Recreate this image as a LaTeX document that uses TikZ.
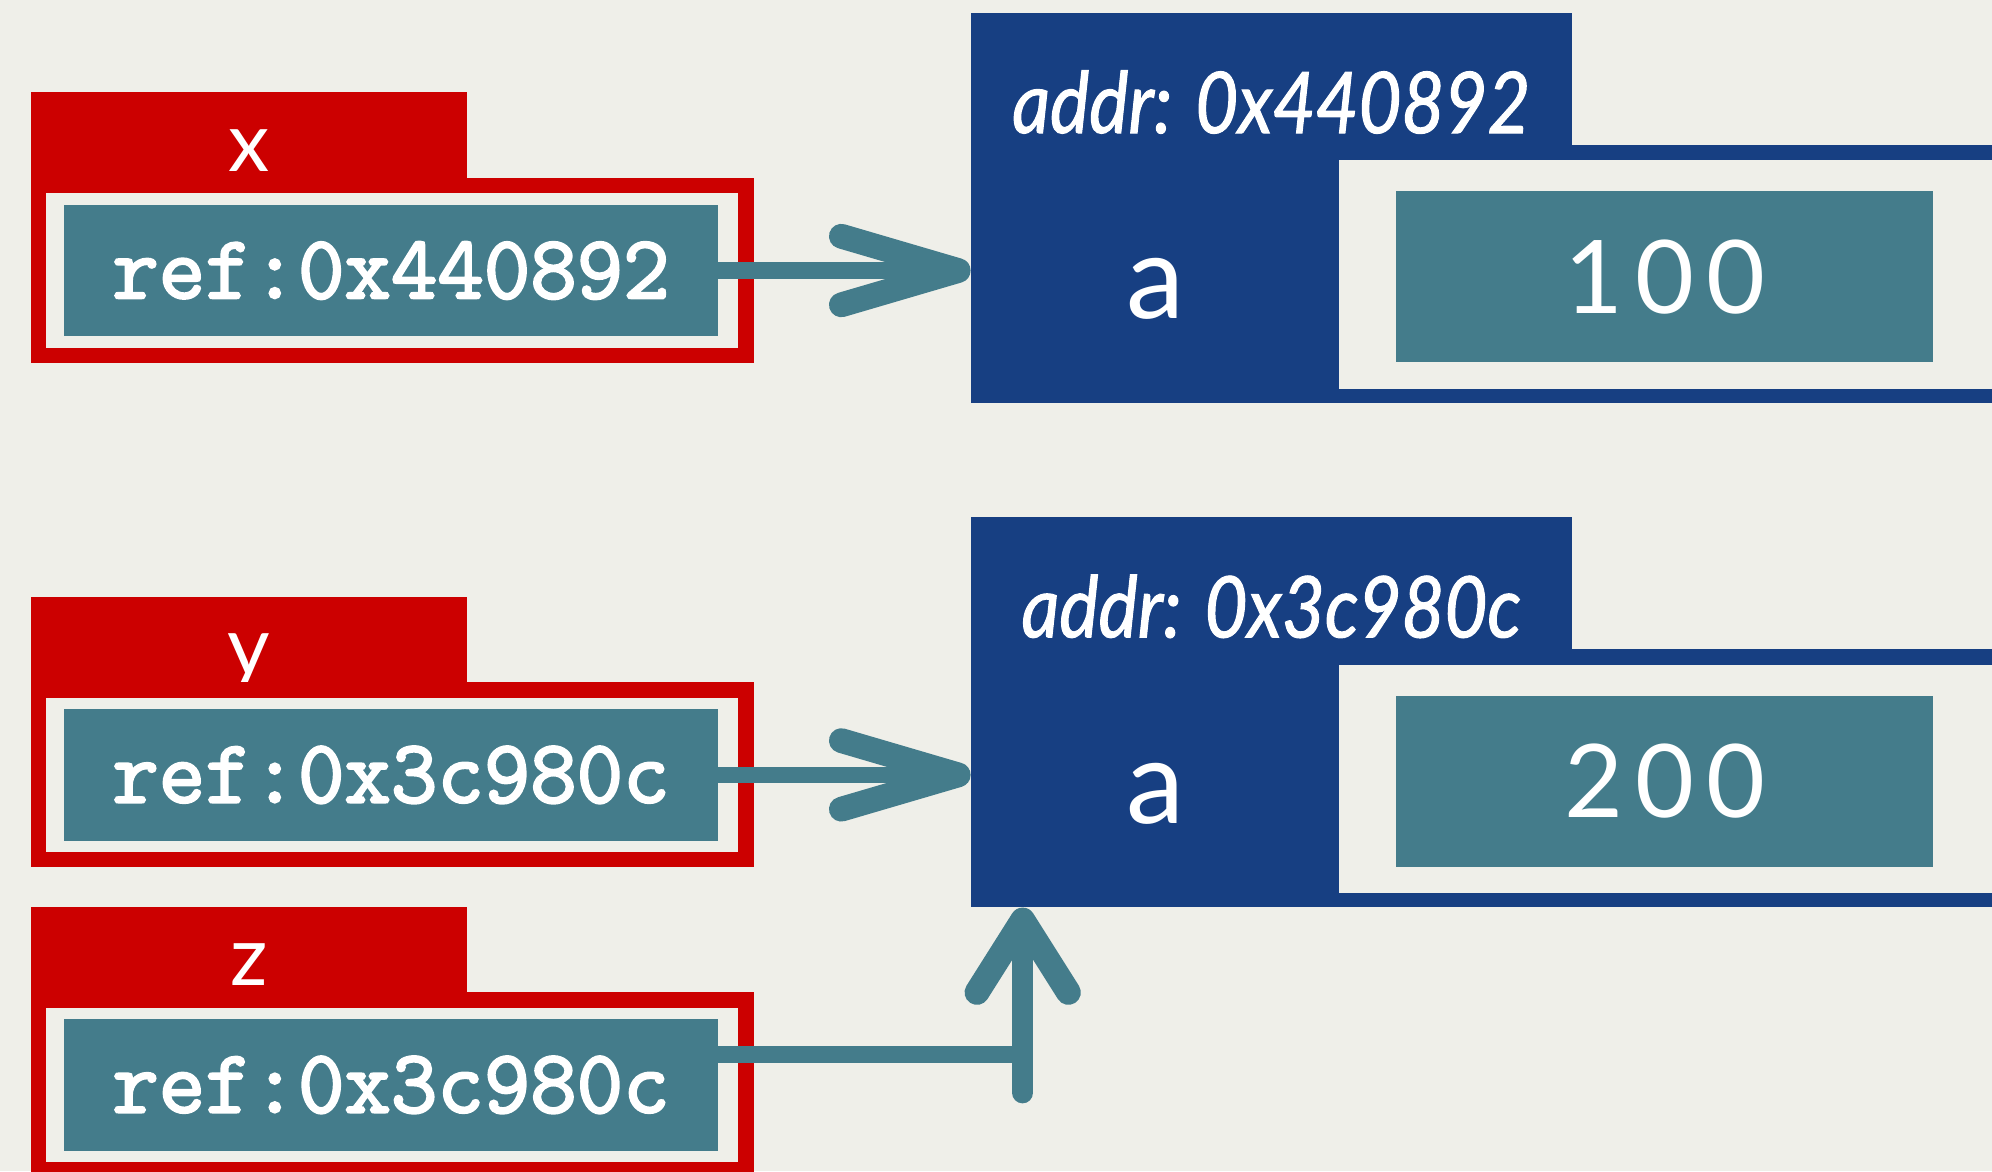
\documentclass[tikz,border=0pt]{standalone}
\usepackage{fontspec}
\setmainfont{Lato}
\newfontfamily\addrlato[FakeStretch=0.87, FakeBold=1.2]{Lato}
\newfontfamily\refmono[FakeBold=2.6]{Latin Modern Mono}
\usepackage{xcolor}
\usetikzlibrary{positioning, arrows.meta}
\definecolor{bgcol}{HTML}{EFEFE9}
\definecolor{varcol}{HTML}{CC0000}
\definecolor{objcol}{HTML}{173F82}
\definecolor{cellcol}{HTML}{447C8B}

\tikzset{
  box/.style={rectangle, inner sep=0pt, anchor=north west},
  vartab/.style={box, fill=varcol, minimum width=343pt, minimum height=91pt, text=white,
    font=\fontsize{65}{70}\selectfont, text height=32.9pt, text depth=0pt},
  varbody/.style={box, fill=varcol, minimum width=569pt, minimum height=145.5pt},
  varpad/.style={box, fill=bgcol, minimum width=545pt, minimum height=121.5pt},
  refcell/.style={box, fill=cellcol, minimum width=515pt, minimum height=103.5pt, text=white,
    font=\fontsize{71}{80}\selectfont\refmono},
  objtab/.style={box, fill=objcol, minimum width=473pt, minimum height=141pt, text=white,
    font=\fontsize{67}{70}\selectfont\addrlato\itshape, text height=48pt, text depth=0pt},
  objbody/.style={box, fill=objcol, minimum width=900pt, minimum height=203pt},
  fieldname/.style={anchor=base, inner sep=0pt, text=white, font=\fontsize{92}{100}\selectfont},
  objpad/.style={box, fill=bgcol, minimum width=700pt, minimum height=180pt},
  valcell/.style={box, fill=cellcol, minimum width=422.6pt, minimum height=134.6pt, text=white,
    font=\fontsize{80}{90}\selectfont\addfontfeature{LetterSpace=12}},
  refline/.style={draw=cellcol, line width=13pt},
  refarrow/.style={refline, -{Straight Barb[length=92pt, width=54pt, line width=0pt 1.5, round]}},
  uparrow/.style={draw=cellcol, line width=17pt, line cap=round,
    -{Straight Barb[length=57pt, width=72pt, line width=0pt 1.15, round]}},
}

\begin{document}
\begin{tikzpicture}[x=1pt, y=-1pt]
\path[use as bounding box, fill=bgcol] (0,0) rectangle (1568,922);

% Row 1
\node[vartab] (xtab) at (24.5,72.6) {x};
\node[varbody] (xbody) at (24,140) {};
\node[varpad] (xpad) at (36,152) {};
\node[refcell] (xref) at (50,161) {ref:0x440892};

\node[objtab] (objAtab) at (764,10) {addr: 0x440892};
\node[objbody] (objA) at (764,114) {};
\node[fieldname] (fieldA) at (909.5,251) {a};
\node[objpad] (padA) at (1054,126) {};
\node[valcell] (valA) at (1099,150.4) {100};

% Row 2
\node[vartab] (ytab) at (24.5,469.6) {y};
\node[varbody] (ybody) at (24,537) {};
\node[varpad] (ypad) at (36,549) {};
\node[refcell] (yref) at (50,558) {ref:0x3c980c};

\node[objtab] (objBtab) at (764,407) {addr: 0x3c980c};
\node[objbody] (objB) at (764,511) {};
\node[fieldname] (fieldB) at (909.5,648) {a};
\node[objpad] (padB) at (1054,523) {};
\node[valcell] (valB) at (1099,547.4) {200};

% Row 3
\node[vartab] (ztab) at (24.5,713.6) {z};
\node[varbody] (zbody) at (24,781) {};
\node[varpad] (zpad) at (36,793) {};
\node[refcell] (zref) at (50,802) {ref:0x3c980c};

% references
\draw[refarrow] (xref.east) -- (xref.east -| objA.west);
\draw[refarrow] (yref.east) -- (yref.east -| objB.west);
\coordinate (zbend) at (805,830);
\coordinate (zfoot) at (805,860);
\draw[refline] (zbend -| zref.east) -- (zbend);
\draw[uparrow] (zfoot) -- (zfoot |- objB.south);
\end{tikzpicture}
\end{document}
